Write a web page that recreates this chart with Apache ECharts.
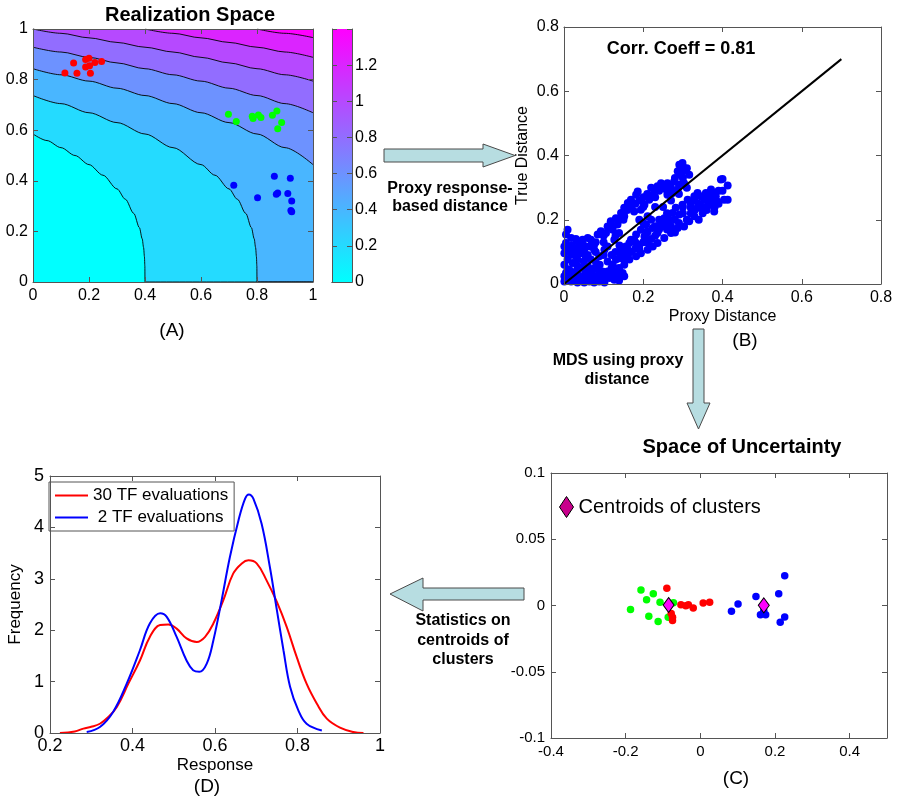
<!DOCTYPE html>
<html><head><meta charset="utf-8">
<script src="https://cdn.jsdelivr.net/npm/echarts/dist/echarts.min.js"></script>
<style>html,body{margin:0;padding:0;background:#fff;}#c{width:898px;height:799px;}</style>
</head><body><div id="c"></div>
<script>
// ---------- Panel A: Realization Space (contour lines) ----------
const contourLevels = [0.2, 0.4, 0.6, 0.8, 1.0, 1.2, 1.4];
const contour02 = [[0,0.585],[0.05,0.559],[0.1,0.531],[0.15,0.5],[0.2,0.464],[0.25,0.422],[0.3,0.368],[0.33,0.327],[0.36,0.271],[0.38,0.215],[0.39,0.171],[0.395,0.136],[0.398,0.1],[0.3995,0.063],[0.4,0],[1,0]];
const contour04 = [[0,0.737],[0.1,0.705],[0.2,0.669],[0.3,0.63],[0.4,0.585],[0.5,0.531],[0.6,0.464],[0.65,0.422],[0.7,0.368],[0.73,0.327],[0.76,0.271],[0.78,0.215],[0.79,0.171],[0.795,0.136],[0.798,0.1],[0.7995,0.063],[0.8,0],[1,0]];
const contour06 = [[0,0.843],[0.1,0.819],[0.2,0.794],[0.3,0.766],[0.4,0.737],[0.5,0.705],[0.6,0.669],[0.7,0.63],[0.8,0.585],[0.9,0.531],[1,0.464]];
const contour08 = [[0,0.928],[0.1,0.909],[0.2,0.888],[0.3,0.866],[0.4,0.843],[0.5,0.819],[0.6,0.794],[0.7,0.766],[0.8,0.737],[0.9,0.705],[1,0.669]];
const contour10 = [[0,1],[0.1,0.983],[0.2,0.965],[0.3,0.947],[0.4,0.928],[0.5,0.909],[0.6,0.888],[0.7,0.866],[0.8,0.843],[0.9,0.819],[1,0.794]];
const contour12 = [[0.4,1],[0.5,0.983],[0.6,0.965],[0.7,0.947],[0.8,0.928],[0.9,0.909],[1,0.888]];
const contour14 = [[0.8,1],[0.9,0.983],[1,0.966]];
const realRed = [[0.114,0.826],[0.145,0.866],[0.157,0.825],[0.188,0.879],[0.2,0.884],[0.188,0.85],[0.202,0.855],[0.221,0.868],[0.245,0.872],[0.205,0.825]];
const realGreen = [[0.698,0.663],[0.726,0.634],[0.783,0.655],[0.786,0.646],[0.805,0.66],[0.814,0.65],[0.855,0.659],[0.871,0.676],[0.888,0.63],[0.874,0.606]];
const realBlue = [[0.717,0.382],[0.802,0.333],[0.862,0.418],[0.919,0.41],[0.874,0.352],[0.869,0.347],[0.91,0.35],[0.924,0.32],[0.921,0.283],[0.924,0.278]];
const colorbarMax = 1.4;

// ---------- Panel B: Proxy vs True distance ----------
const diagLine = [[0,0],[0.7,0.7]];
const proxyTrue = [
[0.001,0.008],[0.009,0.019],[0.018,0.008],[0.026,0.013],[0.034,0.005],[0.043,0.011],[0.051,0.005],[0.064,0.008],[0.076,0.005],[0.089,0.008],[0.102,0.005],
[0.005,0.034],[0.013,0.045],[0.022,0.029],[0.03,0.039],[0.039,0.026],[0.051,0.024],[0.064,0.029],[0.076,0.024],[0.089,0.026],[0.102,0.024],[0.114,0.019],[0.127,0.013],[0.139,0.011],[0.152,0.024],
[0.001,0.06],[0.009,0.076],[0.022,0.065],[0.034,0.055],[0.047,0.05],[0.06,0.055],[0.072,0.047],[0.085,0.045],[0.097,0.039],[0.11,0.039],[0.123,0.034],[0.135,0.029],[0.148,0.034],
[0.018,0.091],[0.03,0.086],[0.043,0.096],[0.055,0.081],[0.068,0.076],[0.081,0.065],[0.089,0.086],
[0.013,0.107],[0.026,0.112],[0.039,0.117],[0.051,0.107],[0.064,0.117],[0.076,0.107],
[0.005,0.154],[0.009,0.169],[0.018,0.143],[0.005,0.128],[0.034,0.133],[0.047,0.138],[0.068,0.138],[0.076,0.122],[0.085,0.154],[0.093,0.164],[0.102,0.107],[0.11,0.117],[0.06,0.143],
[0.001,0.024],[0.009,0.045],[0.026,0.029],[0.055,0.039],[0.034,0.076],[0.022,0.096],[0.001,0.096],[0.001,0.117],
[0.11,0.179],[0.118,0.195],[0.131,0.205],[0.144,0.221],[0.152,0.237],[0.161,0.252],[0.169,0.262],[0.182,0.278],[0.186,0.288],[0.106,0.159],[0.123,0.169],[0.135,0.185],[0.152,0.211],[0.177,0.226],[0.194,0.231],[0.203,0.247],[0.215,0.262],[0.224,0.278],[0.228,0.294],[0.236,0.304],[0.245,0.314],[0.253,0.299],[0.261,0.314],[0.261,0.278],[0.274,0.283],[0.278,0.319],[0.287,0.351],[0.291,0.371],[0.299,0.377],[0.295,0.34],[0.308,0.356],[0.316,0.34],[0.303,0.314],[0.287,0.294],[0.211,0.211],[0.207,0.185],[0.194,0.169],[0.182,0.154],[0.169,0.138],[0.156,0.117],[0.144,0.107],[0.127,0.138],[0.139,0.159],
[0.123,0.06],[0.131,0.076],[0.144,0.096],[0.152,0.076],[0.165,0.128],[0.177,0.138],[0.19,0.122],[0.203,0.148],[0.211,0.164],[0.224,0.174],[0.236,0.159],[0.245,0.185],[0.253,0.205],[0.266,0.2],[0.274,0.221],[0.282,0.237],[0.291,0.216],[0.299,0.247],[0.312,0.262],[0.32,0.237],[0.329,0.273],[0.337,0.283],[0.345,0.273],[0.354,0.262],[0.362,0.242],[0.371,0.294],[0.379,0.226],[0.387,0.257],[0.396,0.325],[0.404,0.262],[0.316,0.195],[0.303,0.179],[0.287,0.174],[0.27,0.159],[0.253,0.143],[0.236,0.128],[0.224,0.117],[0.211,0.107],[0.194,0.096],[0.182,0.086],[0.165,0.076],[0.152,0.06],[0.139,0.05],[0.127,0.039],[0.337,0.237],[0.366,0.252],[0.329,0.211],[0.345,0.242],[0.358,0.283],[0.383,0.273],[0.375,0.252],
[0.413,0.307],[0.413,0.262],[0.4,0.327],
[0.21,0.13],[0.23,0.15],[0.26,0.17],[0.28,0.2],[0.3,0.22],[0.32,0.22],[0.34,0.25],[0.36,0.27],[0.35,0.22],[0.39,0.29],[0.38,0.28],[0.4,0.29],[0.26,0.22],[0.24,0.2],[0.22,0.2],[0.2,0.19],[0.19,0.2],[0.25,0.24],[0.27,0.26],[0.23,0.24],[0.29,0.28],[0.31,0.3],[0.3,0.33],[0.31,0.36],[0.3,0.365],[0.16,0.09],[0.18,0.11],[0.12,0.09],[0.14,0.12],[0.13,0.15],[0.1,0.13],[0.08,0.1],[0.06,0.09],[0.09,0.06],[0.05,0.07],
[0.17,0.1],[0.19,0.11],[0.2,0.13],[0.22,0.14],[0.24,0.17],[0.25,0.18],[0.27,0.18],[0.28,0.16],[0.29,0.19],[0.31,0.2],[0.33,0.23],[0.34,0.2],[0.35,0.24],[0.36,0.23],[0.37,0.26],[0.38,0.24],[0.39,0.25],[0.37,0.28],[0.33,0.26],[0.32,0.25],[0.3,0.24],[0.26,0.19],[0.23,0.18],[0.21,0.16],[0.18,0.13],[0.16,0.11],[0.15,0.1],[0.14,0.08],[0.13,0.1],[0.11,0.07],[0.1,0.09],[0.08,0.05],[0.07,0.03],[0.12,0.05],
[0.12,0.18],[0.14,0.2],[0.16,0.23],[0.17,0.24],[0.19,0.26],[0.2,0.27],[0.21,0.28],[0.22,0.3],[0.24,0.29],[0.25,0.3],[0.27,0.3],[0.28,0.33],[0.3,0.35],[0.29,0.31],[0.26,0.29],[0.23,0.27],[0.2,0.24],[0.18,0.25],[0.15,0.2],[0.1,0.15],[0.08,0.13],[0.07,0.12],[0.04,0.1],[0.02,0.12],[0.03,0.14],[0.05,0.12]
];

// ---------- Panel C: Space of Uncertainty ----------
const mdsGreen = [[-0.159,0.0117],[-0.126,0.0089],[-0.144,0.0044],[-0.108,0.0024],[-0.187,-0.0031],[-0.138,-0.0082],[-0.113,-0.012],[-0.086,-0.0089],[-0.072,0.0021]];
const mdsRed = [[-0.0897,0.013],[-0.052,0.0006],[-0.039,-0.0001],[-0.032,0.0006],[-0.019,-0.0019],[0.0076,0.0019],[0.025,0.0024],[-0.0745,-0.0089],[-0.0745,-0.0114],[-0.078,-0.006]];
const mdsBlue = [[0.0834,-0.0044],[0.101,0.0011],[0.149,0.0067],[0.21,0.0089],[0.226,0.0225],[0.161,-0.0069],[0.175,-0.0069],[0.214,-0.0127],[0.226,-0.0087],[0.17,-0.004]];
const centroids = [[-0.085,0.0004],[0.17,0.0001]];

// ---------- Panel D: Response distributions ----------
const tf30 = [[0.224,0],[0.26,0.03],[0.281,0.085],[0.3,0.12],[0.321,0.18],[0.34,0.3],[0.362,0.506],[0.39,0.96],[0.418,1.41],[0.442,1.87],[0.467,2.1],[0.487,2.11],[0.507,2.03],[0.531,1.84],[0.556,1.77],[0.576,1.87],[0.596,2.13],[0.62,2.58],[0.644,3.1],[0.665,3.3],[0.681,3.36],[0.701,3.3],[0.725,2.97],[0.75,2.55],[0.774,2.06],[0.798,1.48],[0.822,0.96],[0.847,0.57],[0.871,0.28],[0.903,0.105],[0.935,0.02],[0.96,0]];
const tf2 = [[0.289,0.02],[0.321,0.117],[0.353,0.41],[0.386,0.96],[0.418,1.61],[0.442,2.13],[0.467,2.33],[0.483,2.26],[0.507,1.87],[0.531,1.41],[0.547,1.22],[0.562,1.19],[0.58,1.35],[0.596,1.8],[0.616,2.58],[0.636,3.42],[0.657,4.14],[0.673,4.56],[0.682,4.64],[0.693,4.56],[0.713,4.07],[0.733,3.23],[0.75,2.39],[0.766,1.61],[0.782,0.9],[0.802,0.44],[0.822,0.18],[0.859,0.05]];

// ---------- styling helpers ----------
const FONT = '"Liberation Sans", Arial, Helvetica, sans-serif';
const AXC = '#555';
function fmtNum(v){ return String(Math.round(v*1000)/1000); }
function coolColor(t){ return 'rgb(' + Math.round(255*t) + ',' + Math.round(255*(1-t)) + ',255)'; }
function axes(dim, grid, min, max, interval, o) {
  o = o || {};
  const common = {
    gridIndex: grid, type: 'value', min: min, max: max, interval: interval, z: 10,
    axisLine: {show: true, onZero: false, lineStyle: {color: AXC, width: 1}},
    axisTick: {show: true, inside: true, length: 5, lineStyle: {color: AXC, width: 1}},
    splitLine: {show: false}
  };
  const primary = Object.assign({}, common, {
    position: dim === 'x' ? 'bottom' : 'left',
    axisLabel: {show: true, color: '#000', fontFamily: FONT, fontSize: o.fs || 16,
      margin: o.margin == null ? 6 : o.margin,
      formatter: function(v){ return (o.hideAbove != null && v > o.hideAbove) ? '' : fmtNum(v); }},
    name: o.name || '', nameLocation: 'middle', nameGap: o.nameGap || 0,
    nameTextStyle: {color: '#000', fontFamily: FONT, fontSize: o.nameSize || 16}
  });
  const secondary = Object.assign({}, common, {position: dim === 'x' ? 'top' : 'right', axisLabel: {show: false}});
  return [primary, secondary];
}

const grids = [
  {left: 33, top: 29, width: 280, height: 253, show: true, backgroundColor: '#00ffff', borderWidth: 0},
  {left: 332, top: 29, width: 20, height: 253},
  {left: 564, top: 27, width: 317, height: 257},
  {left: 551, top: 473, width: 336, height: 265},
  {left: 50, top: 476, width: 330, height: 257}
];

const cbCat = {gridIndex: 1, type: 'category', data: ['cb'], z: 10, boundaryGap: true,
  axisLine: {show: true, lineStyle: {color: AXC}}, axisTick: {show: false}, axisLabel: {show: false}};
const xAxes = [].concat(
  axes('x', 0, 0, 1, 0.2, {fs: 16}),
  [Object.assign({}, cbCat, {position: 'bottom'}), Object.assign({}, cbCat, {position: 'top'})],
  axes('x', 2, 0, 0.8, 0.2, {fs: 16, name: 'Proxy Distance', nameGap: 25, nameSize: 16}),
  axes('x', 3, -0.4, 0.5, 0.2, {fs: 15, hideAbove: 0.45}),
  axes('x', 4, 0.2, 1, 0.2, {fs: 18, margin: 4, name: 'Response', nameGap: 24, nameSize: 17})
);
const cbY = axes('y', 1, 0, colorbarMax, 0.2, {fs: 16, margin: 3, hideAbove: 1.3});
cbY[0].position = 'right'; cbY[1].position = 'left';
const yAxes = [].concat(
  axes('y', 0, 0, 1, 0.2, {fs: 16, margin: 5}),
  cbY,
  axes('y', 2, 0, 0.8, 0.2, {fs: 16, margin: 5, name: 'True Distance', nameGap: 33, nameSize: 16}),
  axes('y', 3, -0.1, 0.1, 0.05, {fs: 15, margin: 6}),
  axes('y', 4, 0, 5, 1, {fs: 18, margin: 6, name: 'Frequency', nameGap: 26, nameSize: 17})
);
// axis index map: x: A=0, CB=2, B=4, C=6, D=8 ; y: A=0, CB=2, B=4, C=6, D=8

const series = [];
const contours = [contour02, contour04, contour06, contour08, contour10, contour12, contour14];
contours.forEach(function(d, i){
  series.push({type: 'line', xAxisIndex: 0, yAxisIndex: 0, data: d, symbol: 'none', silent: true,
    smooth: 0.3, smoothMonotone: 'x',
    lineStyle: {color: '#000', width: 0.9},
    areaStyle: {color: coolColor(contourLevels[i] / colorbarMax), opacity: 1, origin: 'end'}});
});
[[realRed, '#ff0000'], [realGreen, '#00ff00'], [realBlue, '#0000ff']].forEach(function(p){
  series.push({type: 'scatter', xAxisIndex: 0, yAxisIndex: 0, data: p[0], symbolSize: 7, z: 5,
    itemStyle: {color: p[1], opacity: 1}});
});
series.push({type: 'bar', xAxisIndex: 2, yAxisIndex: 2, data: [colorbarMax], barWidth: '100%', silent: true,
  itemStyle: {color: {type: 'linear', x: 0, y: 1, x2: 0, y2: 0,
    colorStops: [{offset: 0, color: '#00ffff'}, {offset: 1, color: '#ff00ff'}]}}});
series.push({type: 'scatter', xAxisIndex: 4, yAxisIndex: 4, data: proxyTrue, symbolSize: 8, clip: false,
  itemStyle: {color: '#0000ff', opacity: 1}});
series.push({type: 'line', xAxisIndex: 4, yAxisIndex: 4, data: diagLine, symbol: 'none', z: 4,
  lineStyle: {color: '#000', width: 2}});
[[mdsGreen, '#00ff00'], [mdsRed, '#ff0000'], [mdsBlue, '#0000ff']].forEach(function(p){
  series.push({type: 'scatter', xAxisIndex: 6, yAxisIndex: 6, data: p[0], symbolSize: 7.5,
    itemStyle: {color: p[1], opacity: 1}});
});
series.push({type: 'scatter', name: 'Centroids of clusters', xAxisIndex: 6, yAxisIndex: 6, data: centroids,
  symbol: 'diamond', symbolSize: [11, 15], z: 6,
  itemStyle: {color: '#ff00ff', borderColor: '#000', borderWidth: 1, opacity: 1}});
series.push({type: 'line', name: '30 TF evaluations', xAxisIndex: 8, yAxisIndex: 8, data: tf30, symbol: 'none',
  smooth: 0.4, lineStyle: {color: '#ff0000', width: 2}, itemStyle: {color: '#ff0000'}});
series.push({type: 'line', name: ' 2 TF evaluations', xAxisIndex: 8, yAxisIndex: 8, data: tf2, symbol: 'none',
  smooth: 0.4, lineStyle: {color: '#0000ff', width: 2}, itemStyle: {color: '#0000ff'}});

function txt(x, y, s, size, bold) {
  return {type: 'text', x: x, y: y, z: 100,
    style: {text: s, font: (bold ? 'bold ' : '') + size + 'px ' + FONT, fill: '#000',
      align: 'center', verticalAlign: 'middle', textAlign: 'center', textVerticalAlign: 'middle'}};
}
const arrowStyle = {fill: '#b7dde1', stroke: '#4a4a4a', lineWidth: 1};
const graphics = [
  {type: 'polygon', z: 90, shape: {points: [[384,149],[483,149],[483,144],[515,155.5],[483,167],[483,162],[384,162]]}, style: arrowStyle},
  {type: 'polygon', z: 90, shape: {points: [[693,329],[704,329],[704,403],[710,403],[698.5,429],[687,403],[693,403]]}, style: arrowStyle},
  {type: 'polygon', z: 90, shape: {points: [[524,588],[423,588],[423,578],[390,594],[423,611],[423,600],[524,600]]}, style: arrowStyle},
  txt(190, 15, 'Realization Space', 20, true),
  txt(681, 49, 'Corr. Coeff = 0.81', 18, true),
  txt(742, 447, 'Space of Uncertainty', 20, true),
  txt(450, 189, 'Proxy response-', 16, true),
  txt(450, 207, 'based distance', 16, true),
  txt(618, 361, 'MDS using proxy', 16, true),
  txt(617, 380, 'distance', 16, true),
  txt(463, 621, 'Statistics on', 16, true),
  txt(463, 641, 'centroids of', 16, true),
  txt(463, 660, 'clusters', 16, true),
  txt(172, 331, '(A)', 19, false),
  txt(745, 341, '(B)', 19, false),
  txt(736, 779, '(C)', 19, false),
  txt(207, 787, '(D)', 19, false)
];

const chart = echarts.init(document.getElementById('c'), null, {renderer: 'canvas', width: 898, height: 799});
chart.setOption({
  animation: false,
  backgroundColor: '#fff',
  textStyle: {fontFamily: FONT},
  grid: grids,
  xAxis: xAxes,
  yAxis: yAxes,
  legend: [
    {data: ['30 TF evaluations', ' 2 TF evaluations'], orient: 'vertical', left: 49, top: 482,
      icon: 'rect', padding: [5, 6, 5, 6], itemGap: 5, itemWidth: 33, itemHeight: 2, selectedMode: false,
      borderColor: '#555', borderWidth: 1, backgroundColor: '#fff', borderRadius: 0,
      textStyle: {fontSize: 17, color: '#000', fontFamily: FONT}},
    {data: [{name: 'Centroids of clusters', icon: 'diamond', itemStyle: {color: '#c8008c', borderColor: '#000', borderWidth: 1}}],
      left: 559, top: 496, padding: 0, itemWidth: 14, itemHeight: 21, selectedMode: false,
      textStyle: {fontSize: 20, color: '#000', fontFamily: FONT}}
  ],
  series: series,
  graphic: graphics
});
</script></body></html>
